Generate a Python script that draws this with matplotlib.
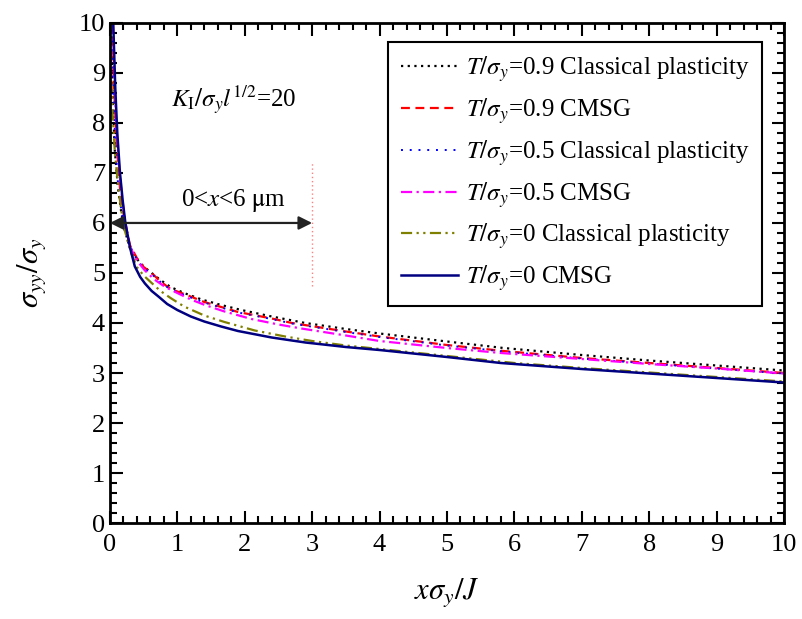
import numpy as np
import matplotlib.pyplot as plt
from matplotlib.ticker import MultipleLocator

plt.rcParams['font.family'] = ['Liberation Serif', 'DejaVu Serif']
plt.rcParams['mathtext.fontset'] = 'stix'

# T/sigma_y = 0.9, classical plasticity
x_09_cl = [0.02, 0.04, 0.07, 0.12, 0.17, 0.22, 0.3, 0.4, 0.5, 0.6, 0.75, 0.9, 1.1, 1.36, 1.65,
           1.95, 2.4, 2.9, 3.5, 4.0, 5.0, 5.84, 7.0, 8.0, 9.0, 10.0]
y_09_cl = [10.0, 8.6, 7.5, 6.7, 6.2, 5.85, 5.5, 5.28, 5.13, 5.02, 4.86, 4.72, 4.6, 4.47, 4.36,
           4.26, 4.13, 4.0, 3.88, 3.79, 3.63, 3.5, 3.36, 3.25, 3.15, 3.05]

# T/sigma_y = 0.9, CMSG
x_09_cm = [0.04, 0.06, 0.1, 0.15, 0.2, 0.25, 0.3, 0.4, 0.5, 0.62, 0.75, 0.9, 1.16, 1.4, 1.9,
           2.4, 2.7, 3.5, 4.0, 5.0, 5.84, 7.0, 8.0, 9.0, 10.0]
y_09_cm = [10.0, 8.8, 7.6, 6.7, 6.2, 5.85, 5.55, 5.3, 5.12, 5.0, 4.83, 4.68, 4.55, 4.42, 4.22,
           4.09, 4.0, 3.83, 3.73, 3.56, 3.44, 3.3, 3.2, 3.1, 3.0]

# T/sigma_y = 0.5, classical plasticity
x_05_cl = [0.03, 0.05, 0.08, 0.12, 0.17, 0.22, 0.3, 0.4, 0.5, 0.62, 0.75, 0.9, 1.16, 1.4, 1.9,
           2.4, 2.7, 3.5, 4.0, 5.0, 5.84, 7.0, 8.0, 9.0, 10.0]
y_05_cl = [10.0, 8.7, 7.6, 6.8, 6.25, 5.87, 5.53, 5.27, 5.1, 4.98, 4.82, 4.67, 4.53, 4.41, 4.21,
           4.08, 3.99, 3.82, 3.72, 3.55, 3.43, 3.29, 3.19, 3.09, 2.99]

# T/sigma_y = 0.5, CMSG
x_05_cm = [0.045, 0.07, 0.1, 0.15, 0.2, 0.25, 0.3, 0.4, 0.52, 0.65, 0.82, 1.0, 1.2, 1.41, 1.7,
           2.1, 2.5, 2.84, 3.5, 4.0, 5.0, 5.8, 7.0, 8.0, 9.0, 10.0]
y_05_cm = [10.0, 8.8, 7.8, 6.9, 6.3, 5.85, 5.52, 5.25, 5.05, 4.88, 4.72, 4.6, 4.47, 4.36, 4.23,
           4.08, 3.97, 3.89, 3.75, 3.64, 3.5, 3.4, 3.28, 3.18, 3.09, 2.99]

# T/sigma_y = 0, classical plasticity
x_00_cl = [0.005, 0.02, 0.04, 0.07, 0.1, 0.14, 0.19, 0.25, 0.3, 0.4, 0.5, 0.62, 0.75, 0.9, 1.1,
           1.4, 1.7, 2.15, 2.6, 3.0, 3.5, 4.0, 5.0, 6.0, 7.0, 8.0, 9.0, 10.0]
y_00_cl = [10.0, 9.0, 8.2, 7.5, 7.05, 6.55, 6.05, 5.7, 5.45, 5.12, 4.95, 4.8, 4.64, 4.5, 4.33,
           4.15, 4.02, 3.85, 3.73, 3.64, 3.55, 3.48, 3.34, 3.2, 3.1, 3.01, 2.92, 2.83]

# T/sigma_y = 0, CMSG
x_00_cm = [0.05, 0.08, 0.11, 0.15, 0.19, 0.23, 0.3, 0.37, 0.45, 0.52, 0.62, 0.72, 0.85, 1.0,
           1.2, 1.4, 1.65, 1.9, 2.4, 2.9, 3.5, 4.0, 5.0, 5.8, 7.0, 8.0, 9.0, 10.0]
y_00_cm = [10.0, 8.7, 7.8, 7.0, 6.45, 6.0, 5.5, 5.13, 4.92, 4.79, 4.64, 4.53, 4.38, 4.26,
           4.13, 4.03, 3.93, 3.84, 3.71, 3.61, 3.52, 3.46, 3.32, 3.2, 3.08, 2.99, 2.9, 2.81]

fig = plt.figure(figsize=(8.02, 6.19), dpi=100)
ax = fig.add_axes([0.137, 0.155, 0.8406, 0.808])

ax.plot(x_09_cl, y_09_cl, color='black', ls=(0, (1, 2)), lw=1.6,
        label=r'$T/\sigma_y$=0.9 Classical plasticity')
ax.plot(x_09_cm, y_09_cm, color='#ff0000', ls=(0, (4, 2.5)), lw=1.6,
        label=r'$T/\sigma_y$=0.9 CMSG')
ax.plot(x_05_cl, y_05_cl, color='#0000ff', ls=(0, (1, 3.5)), lw=1.4,
        label=r'$T/\sigma_y$=0.5 Classical plasticity')
ax.plot(x_05_cm, y_05_cm, color='#ff00ff', ls=(0, (5, 2, 1, 2)), lw=1.6,
        label=r'$T/\sigma_y$=0.5 CMSG')
ax.plot(x_00_cl, y_00_cl, color='#808000', ls=(0, (5, 2, 1, 2, 1, 2)), lw=1.6,
        label=r'$T/\sigma_y$=0 Classical plasticity')
ax.plot(x_00_cm, y_00_cm, color='#000080', ls='-', lw=1.8,
        label=r'$T/\sigma_y$=0 CMSG')

# annotation: double arrow and dotted marker at x = 3
ax.annotate('', xy=(3.0, 6.0), xytext=(0.0, 6.0),
            arrowprops=dict(arrowstyle='<|-|>', color='#222222', lw=1.6,
                            mutation_scale=20, shrinkA=0, shrinkB=0))
ax.plot([3.0, 3.0], [4.74, 7.2], color='#ff8080', ls=(0, (1, 2)), lw=1.0)
ax.text(1.83, 6.45, r'0<$x$<6 $\mathrm{\mu}$m', fontsize=18, ha='center', va='center')
ax.text(1.83, 8.45, r'$K_\mathrm{I}/\sigma_y l^{1/2}$=20', fontsize=18, ha='center', va='center')

ax.set_xlim(0, 10)
ax.set_ylim(0, 10)
ax.xaxis.set_major_locator(MultipleLocator(1))
ax.xaxis.set_minor_locator(MultipleLocator(0.2))
ax.yaxis.set_major_locator(MultipleLocator(1))
ax.yaxis.set_minor_locator(MultipleLocator(0.2))
ax.tick_params(which='both', direction='in', top=True, right=True, width=1.5, labelsize=19)
ax.tick_params(which='major', length=9)
ax.tick_params(which='minor', length=5)
ax.tick_params(axis='x', pad=8)
for s in ax.spines.values():
    s.set_linewidth(2)

ax.set_xlabel(r'$x\sigma_y/J$', fontsize=22, labelpad=14)
ax.set_ylabel(r'$\sigma_{yy}/\sigma_y$', fontsize=22, labelpad=22)

leg = ax.legend(loc='upper right', bbox_to_anchor=(0.967, 0.962), fontsize=18,
                fancybox=False, edgecolor='black', framealpha=1, handlelength=2.3,
                labelspacing=0.48, borderpad=0.5, handletextpad=0.3, borderaxespad=0)
leg.get_frame().set_linewidth(1.5)

fig.savefig('out.png', dpi=100)
